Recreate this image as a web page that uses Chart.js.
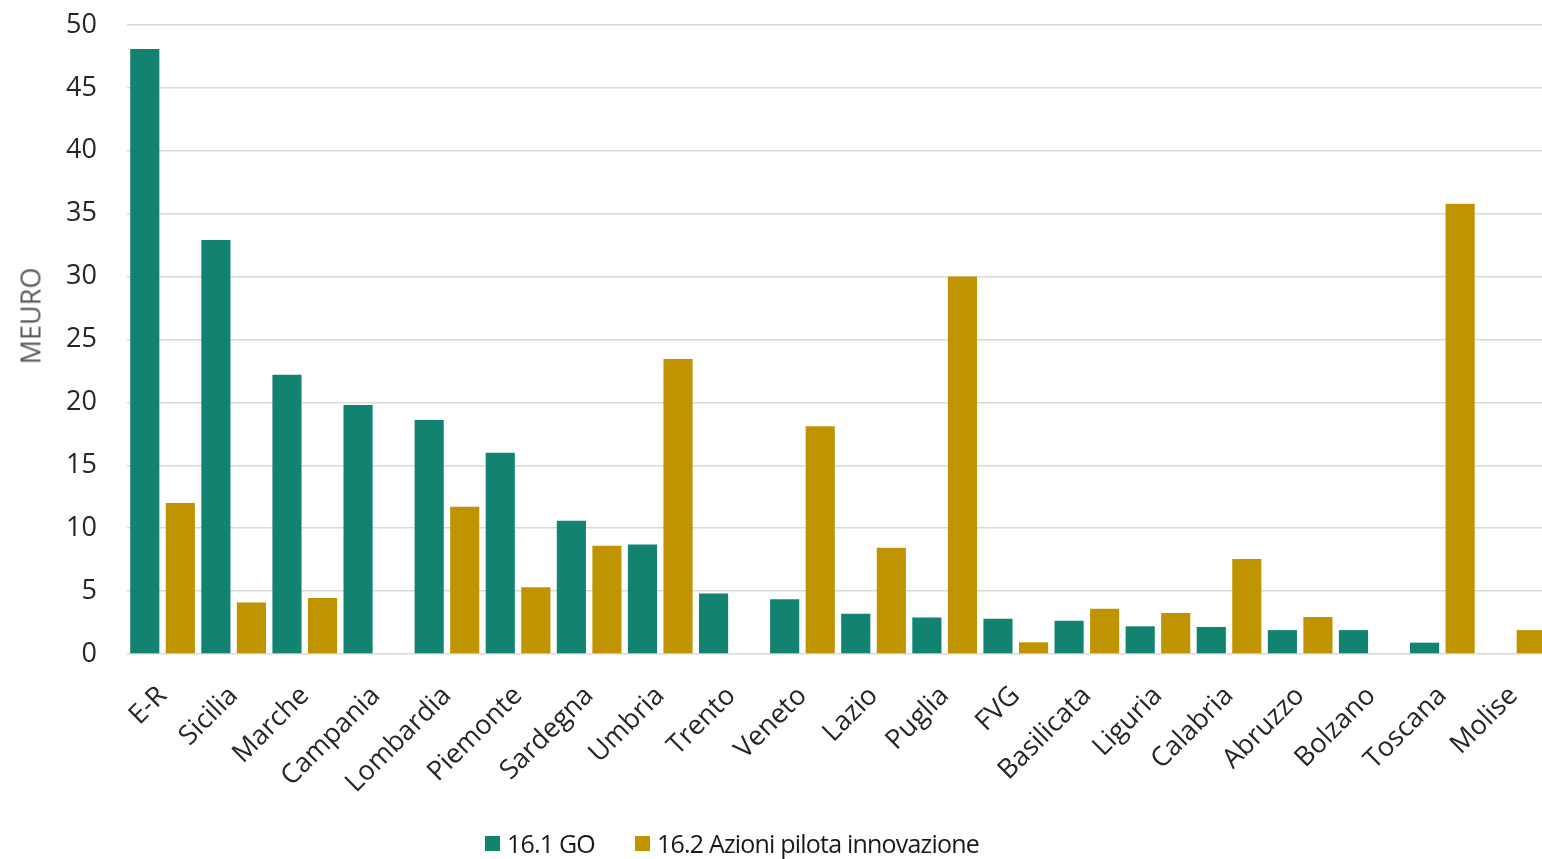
<!DOCTYPE html>
<html>
<head>
<meta charset="utf-8">
<script src="https://cdn.jsdelivr.net/npm/chart.js@4"></script>
<style>
  html, body { margin: 0; padding: 0; background: #fff; overflow: hidden; }
  #wrap { position: relative; width: 1556px; height: 859px; }
  #yTitle {
    position: absolute; left: 30px; top: 316px;
    transform: translate(-50%, -50%) rotate(-90deg);
    font: 27px "Open Sans", sans-serif; color: #595959; white-space: nowrap;
  }
  #legend {
    position: absolute; left: 485px; top: 826px;
    display: flex; align-items: center;
    font: 25px "Open Sans", sans-serif; color: #1a1a1a; white-space: nowrap;
    letter-spacing: -0.8px;
  }
  #legend .item { display: flex; align-items: center; margin-right: 40px; }
  #legend .box { width: 15px; height: 15px; margin-right: 7px; }
</style>
</head>
<body>
<div id="wrap">
  <canvas id="chart" width="1556" height="859"></canvas>
  <div id="yTitle">MEURO</div>
  <div id="legend"></div>
</div>
<script>
  // Regions (x axis)
  const regions = ['E-R', 'Sicilia', 'Marche', 'Campania', 'Lombardia', 'Piemonte', 'Sardegna', 'Umbria', 'Trento', 'Veneto',
    'Lazio', 'Puglia', 'FVG', 'Basilicata', 'Liguria', 'Calabria', 'Abruzzo', 'Bolzano', 'Toscana', 'Molise'];

  // MEURO per region
  const goValues = [48.1, 32.9, 22.2, 19.8, 18.6, 16.0, 10.6, 8.7, 4.8, 4.35,
    3.2, 2.9, 2.8, 2.65, 2.2, 2.15, 1.9, 1.9, 0.9, 0];
  const pilotValues = [12.0, 4.1, 4.45, 0, 11.7, 5.3, 8.6, 23.45, 0, 18.1,
    8.45, 30.0, 0.93, 3.6, 3.25, 7.55, 2.95, 0, 35.8, 1.9];

  const seriesNames = ['16.1 GO', '16.2 Azioni pilota innovazione'];
  const seriesColors = ['#138371', '#C09400'];

  const yTicks = [0, 5, 10, 15, 20, 25, 30, 35, 40, 45, 50];

  const ctx = document.getElementById('chart').getContext('2d');
  new Chart(ctx, {
    type: 'bar',
    data: {
      labels: regions,
      datasets: [goValues, pilotValues].map((vals, i) => ({
        label: seriesNames[i],
        data: vals,
        backgroundColor: seriesColors[i],
        categoryPercentage: 1.0,
        barPercentage: 0.82,
      })),
    },
    options: {
      responsive: false,
      animation: false,
      devicePixelRatio: 1,
      layout: { padding: { top: 25, right: 7, left: 0, bottom: 0 } },
      plugins: {
        legend: { display: false },
        tooltip: { enabled: false },
      },
      scales: {
        x: {
          grid: { display: false },
          border: { display: false },
          ticks: {
            autoSkip: false,
            minRotation: 45,
            maxRotation: 45,
            padding: 18,
            color: '#262626',
            font: { family: 'Open Sans', size: 27 },
          },
          afterFit: (s) => { s.height = 205; s.paddingTop = 0; s.paddingLeft = 0; s.paddingRight = 0; },
        },
        y: {
          min: yTicks[0],
          max: yTicks[yTicks.length - 1],
          border: { display: false },
          grid: { color: '#d9d9d9', lineWidth: 1.5, drawTicks: false },
          afterBuildTicks: (s) => { s.ticks = yTicks.map(v => ({ value: v })); },
          ticks: {
            padding: 30,
            color: '#262626',
            font: { family: 'Open Sans', size: 27 },
          },
          afterFit: (s) => { s.width = 127; s.paddingTop = 0; s.paddingBottom = 0; },
        },
      },
    },
  });

  // Legend
  const legend = document.getElementById('legend');
  seriesNames.forEach((name, i) => {
    const item = document.createElement('div');
    item.className = 'item';
    item.innerHTML = '<span class="box" style="background:' + seriesColors[i] + '"></span><span>' + name + '</span>';
    legend.appendChild(item);
  });
</script>
</body>
</html>
